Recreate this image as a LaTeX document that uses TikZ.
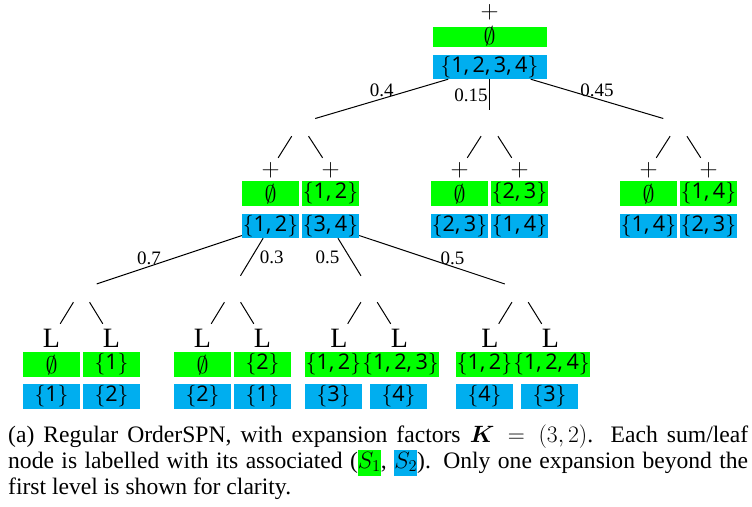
\RequirePackage{fix-cm}
\documentclass[tikz,border=0pt]{standalone}
\usepackage{amsmath}
\usepackage[no-math]{fontspec}
\setmainfont{Liberation Serif}
\newfontfamily\numfont{Open Sans}
\definecolor{sgreen}{HTML}{00FF00}
\definecolor{sblue}{HTML}{00AEEF}
\setlength{\fboxsep}{0pt}
% a set of variable indices, e.g. {1, 2}
\newcommand{\sset}[1]{\ensuremath{\{}{\numfont #1}\ensuremath{\}}}
\newcommand{\nil}{{\fontsize{24}{26}\selectfont$\emptyset$}}
% sum node: name, x, y, style of the S1 box, S1 text, S2 text
\newcommand{\sumnode}[6]{%
  \node[sumop] (#1) at (#2,#3) {$+$};
  \node[gbox,#4] (#1g) at (#2,#3+23.5) {#5};
  \node[bbox] (#1b) at (#2,#3+56) {#6};}
% leaf node: name, x, style of the S1 box, S1 text, S2 text
\newcommand{\leafnode}[5]{%
  \node[leafop] (#1) at (#2,338) {L};
  \node[gbox,#3] (#1g) at (#2,364.5) {#4};
  \node[bbox, minimum height=25pt] (#1b) at (#2,396.5) {#5};}
\begin{document}
\begin{tikzpicture}[x=1pt,y=-1pt,
  every node/.style={inner sep=0pt},
  boxtext/.style={font=\fontsize{21.6}{26}\selectfont, text height=15.5pt, text depth=5.5pt},
  gbox/.style={boxtext, fill=sgreen, minimum width=57pt, minimum height=25pt},
  bbox/.style={boxtext, fill=sblue, minimum width=57pt, minimum height=24pt},
  nilbox/.style={text height=19pt, text depth=1pt},
  sumop/.style={font=\fontsize{25}{30}\selectfont, minimum width=20pt, minimum height=24pt},
  leafop/.style={font=\fontsize{28}{32}\selectfont, minimum width=20pt, minimum height=28pt},
  prod/.style={minimum width=30pt, minimum height=26pt},
  conn/.style={draw, line width=1pt},
  wlab/.style={font=\fontsize{19}{22}\selectfont, inner sep=1.5pt},
]
\useasboundingbox (0,0) rectangle (752,506);

% root sum node
\node[sumop, minimum height=20pt] (root) at (489.5,12) {$+$};
\node[gbox, minimum width=114pt, minimum height=20pt, text height=17pt, text depth=2pt] (rootg) at (489.5,37) {\nil};
\node[bbox, minimum width=114pt] (rootb) at (489.5,67) {\sset{1,\,2,\,3,\,4}};

% product nodes (unlabelled)
\node[prod] (p1) at (300,123) {};
\node[prod] (p2) at (489.5,123) {};
\node[prod] (p3) at (678.5,123) {};
\node[prod] (q1) at (81.5,289) {};
\node[prod] (q2) at (232.5,289) {};
\node[prod] (q3) at (369,289) {};
\node[prod] (q4) at (520,289) {};

% first-level sums
\sumnode{m1a}{270.5}{170}{nilbox}{\nil}{\sset{1,\,2}}
\sumnode{m1b}{330.5}{170}{}{\sset{1,\,2}}{\sset{3,\,4}}
\sumnode{m2a}{459.5}{170}{nilbox}{\nil}{\sset{2,\,3}}
\sumnode{m2b}{519.5}{170}{}{\sset{2,\,3}}{\sset{1,\,4}}
\sumnode{m3a}{648.5}{170}{nilbox}{\nil}{\sset{1,\,4}}
\sumnode{m3b}{708.5}{170}{}{\sset{1,\,4}}{\sset{2,\,3}}

% leaves
\leafnode{l1a}{51.5}{nilbox}{\nil}{\sset{1}}
\leafnode{l1b}{111.5}{}{\sset{1}}{\sset{2}}
\leafnode{l2a}{202.5}{nilbox}{\nil}{\sset{2}}
\leafnode{l2b}{262.5}{}{\sset{2}}{\sset{1}}

\node[leafop] (l3a) at (339,338) {L};
\node[gbox] (l3ag) at (333.5,364.5) {\sset{1,\,2}};
\node[bbox, minimum height=25pt] (l3ab) at (333.5,396.5) {\sset{3}};
\node[leafop] (l3b) at (399.5,338) {L};
\node[gbox, minimum width=73pt] (l3bg) at (400.5,364.5) {\sset{1,\,2,\,3}};
\node[bbox, minimum height=25pt] (l3bb) at (398.5,396.5) {\sset{4}};

\node[leafop] (l4a) at (490,338) {L};
\node[gbox] (l4ag) at (484.5,364.5) {\sset{1,\,2}};
\node[bbox, minimum height=25pt] (l4ab) at (484.5,396.5) {\sset{4}};
\node[leafop] (l4b) at (550.5,338) {L};
\node[gbox, minimum width=73pt] (l4bg) at (551.5,364.5) {\sset{1,\,2,\,4}};
\node[bbox, minimum height=25pt] (l4bb) at (549.5,396.5) {\sset{3}};

% weighted edges out of the sums
\draw[conn] (rootb) -- (p1) node[wlab, pos=0.5, above] {0.4};
\draw[conn] (rootb) -- (p2) node[wlab, pos=0.52, left] {0.15};
\draw[conn] (rootb) -- (p3) node[wlab, pos=0.5, above] {0.45};
\draw[conn] (m1ab) -- (q1) node[wlab, pos=0.64, above] {0.7};
\draw[conn] (m1ab) -- (q2) node[wlab, pos=0.5, right, xshift=6pt] {0.3};
\draw[conn] (m1bb) -- (q3) node[wlab, pos=0.5, left, xshift=-8pt] {0.5};
\draw[conn] (m1bb) -- (q4) node[wlab, pos=0.64, above] {0.5};

% edges out of the products
\draw[conn] (p1) -- (m1a);
\draw[conn] (p1) -- (m1b);
\draw[conn] (p2) -- (m2a);
\draw[conn] (p2) -- (m2b);
\draw[conn] (p3) -- (m3a);
\draw[conn] (p3) -- (m3b);
\draw[conn] (q1) -- (l1a);
\draw[conn] (q1) -- (l1b);
\draw[conn] (q2) -- (l2a);
\draw[conn] (q2) -- (l2b);
\draw[conn] (q3) -- (l3a);
\draw[conn] (q3) -- (l3b);
\draw[conn] (q4) -- (l4a);
\draw[conn] (q4) -- (l4b);

% caption
\node[anchor=north west, text width=740pt, align=justify,
      font=\fontsize{23.6}{26}\selectfont] (caption) at (8,424)
  {\strut(a) Regular OrderSPN, with expansion factors $\boldsymbol{K} = (3,2)$. Each sum/leaf\linebreak
   node is labelled with its associated (\colorbox{sgreen}{\strut$S_1$}, \colorbox{sblue}{\strut$S_2$}). Only one expansion beyond the\linebreak
   first level is shown for clarity.};
\end{tikzpicture}
\end{document}
